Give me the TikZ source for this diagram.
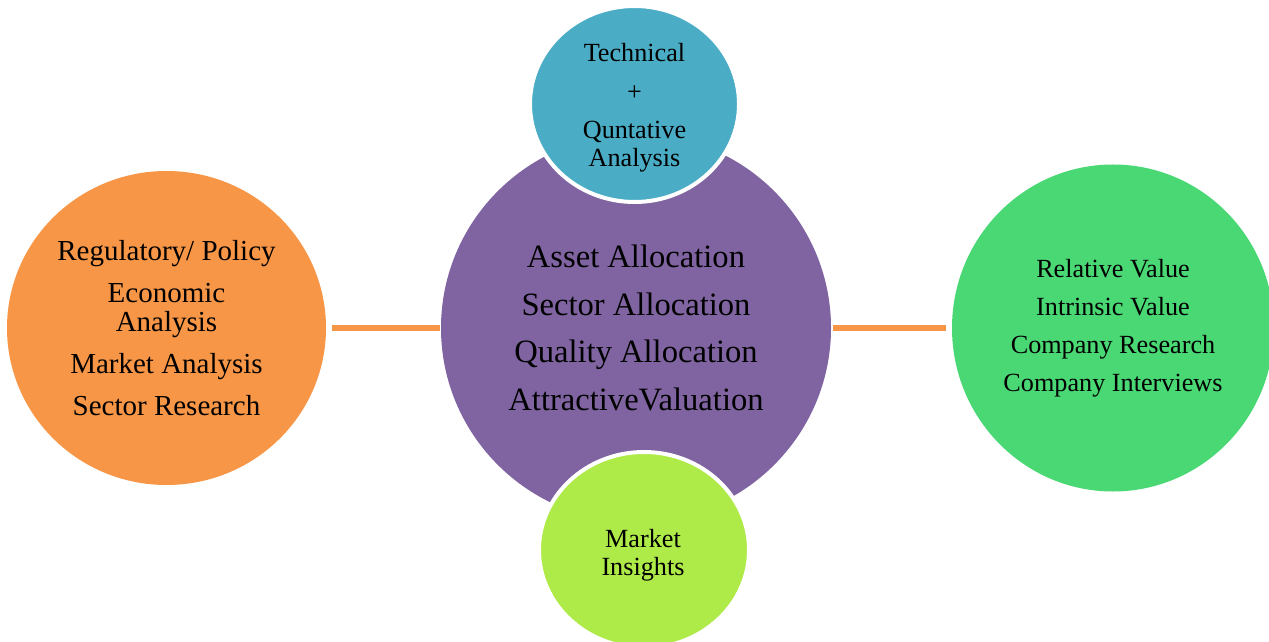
\documentclass[tikz,border=0pt]{standalone}
\usepackage{fontspec}
\setmainfont{Liberation Serif}
\usetikzlibrary{shapes.geometric}
\definecolor{cpurple}{HTML}{8064A2}
\definecolor{cteal}{HTML}{4BACC6}
\definecolor{corange}{HTML}{F79646}
\definecolor{cgreen}{HTML}{4AD874}
\definecolor{clime}{HTML}{AEEA48}
\tikzset{
  blob/.style={ellipse, inner sep=0pt, outer sep=0pt, align=center, text=black},
  ringed/.style={blob, draw=white, line width=4bp},
  words/.style={inner sep=0pt, align=center, text=black},
  link/.style={draw=corange, line width=5bp},
}
\begin{document}
\begin{tikzpicture}[x=1bp,y=-1bp]
\useasboundingbox (0,0) rectangle (1269,642);
\clip (0,0) rectangle (1269,642);
\node[blob, fill=cpurple, minimum width=390bp, minimum height=388bp,
      font=\fontsize{32.7}{48}\selectfont] (center) at (636,328)
  {Asset Allocation\\Sector Allocation\\Quality Allocation\\AttractiveValuation};
\node[ringed, fill=cteal, minimum width=209bp, minimum height=196bp] (top) at (634.5,104) {};
\node[words, font=\fontsize{26.3}{28}\selectfont] (toptext) at (634.5,108)
  {Technical\\[10.5pt]+\\[10.5pt]Quntative\\Analysis};
\node[ringed, fill=clime, minimum width=210bp, minimum height=196bp] (bottom) at (644,550) {};
\node[words, font=\fontsize{26.3}{28}\selectfont] (bottomtext) at (643,555)
  {Market\\Insights};
\node[blob, fill=corange, minimum width=319bp, minimum height=314bp,
      font=\fontsize{29.1}{30}\selectfont] (left) at (166.5,328)
  {Regulatory/ Policy\\[12pt]Economic\\Analysis\\[12pt]Market Analysis\\[12pt]Sector Research};
\node[blob, fill=cgreen, minimum width=322bp, minimum height=327bp,
      font=\fontsize{26.3}{38}\selectfont] (right) at (1113,328)
  {Relative Value\\Intrinsic Value\\Company Research\\Company Interviews};
\draw[link, shorten <=6bp, shorten >=1bp] (left.east) -- (center.west);
\draw[link, shorten <=2bp, shorten >=6bp] (center.east) -- (right.west);
\end{tikzpicture}
\end{document}
